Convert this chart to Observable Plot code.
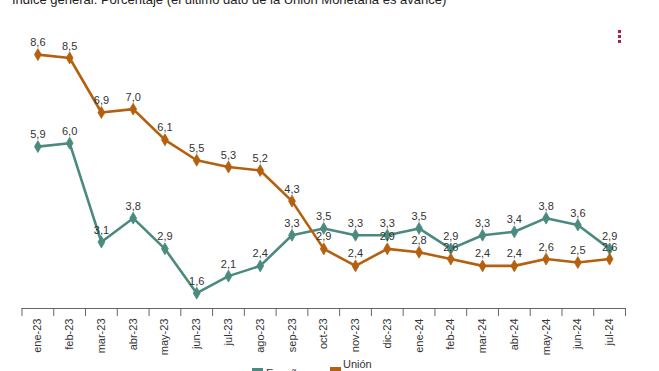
<!DOCTYPE html>
<html>
<head>
<meta charset="utf-8">
<script src="https://cdn.jsdelivr.net/npm/d3@7"></script>
<script src="https://cdn.jsdelivr.net/npm/@observablehq/plot@0.6"></script>
<style>
  html, body { margin: 0; padding: 0; background: #fff; overflow: hidden; }
  #wrap { position: relative; width: 659px; height: 371px; overflow: hidden; font-family: "Liberation Sans", Arial, sans-serif; }
  #title { position: absolute; left: 12px; top: -8px; font-size: 13px; color: #222; white-space: nowrap; }
  #menu { position: absolute; left: 618px; top: 30px; }
  #menu span { display: block; width: 3px; height: 3px; background: #b01c44; margin-bottom: 2px; }
  #chart { position: absolute; left: 0; top: 0; }
  #legend { position: absolute; top: 355px; left: 0; width: 659px; font-size: 11px; color: #333; }
  .item { position: absolute; }
  .sw { position: absolute; width: 11px; height: 10px; }
  .lt { position: absolute; line-height: 12px; }
</style>
</head>
<body>
<div id="wrap">
  <div id="chart"></div>
  <div id="title">Índice general. Porcentaje (el último dato de la Unión Monetaria es avance)</div>
  <div id="menu"><span></span><span></span><span></span></div>
  <div id="legend">
    <div class="item" style="left:252px;top:0">
      <div class="sw" style="left:0;top:13px;background:#4b8a7f"></div>
      <div class="lt" style="left:14px;top:12px">España</div>
    </div>
    <div class="item" style="left:330px;top:0">
      <div class="sw" style="left:0;top:12px;background:#b5600e"></div>
      <div class="lt" style="left:13px;top:0;line-height:18px">Unión<br>Monetaria</div>
    </div>
  </div>
</div>
<script>
const months = ["ene-23","feb-23","mar-23","abr-23","may-23","jun-23","jul-23","ago-23","sep-23","oct-23","nov-23","dic-23","ene-24","feb-24","mar-24","abr-24","may-24","jun-24","jul-24"];
const spain = [5.9, 6.0, 3.1, 3.8, 2.9, 1.6, 2.1, 2.4, 3.3, 3.5, 3.3, 3.3, 3.5, 2.9, 3.3, 3.4, 3.8, 3.6, 2.9];
const union = [8.6, 8.5, 6.9, 7.0, 6.1, 5.5, 5.3, 5.2, 4.3, 2.9, 2.4, 2.9, 2.8, 2.6, 2.4, 2.4, 2.6, 2.5, 2.6];

const teal = "#4b8a7f";
const orange = "#b5600e";
const fmt = v => v.toFixed(1).replace(".", ",");

const rowsES = spain.map((v, i) => ({i, v}));
const rowsUM = union.map((v, i) => ({i, v}));
const yMin = 1.15;

const seriesMarks = (rows, color) => [
  Plot.line(rows, {x: "i", y: "v", stroke: color, strokeWidth: 2.6}),
  Plot.dot(rows, {x: "i", y: "v", fill: color, symbol: "diamond", r: 3.6, stroke: color, strokeWidth: 0.8}),
  Plot.text(rows, {x: "i", y: "v", text: d => fmt(d.v), dy: -12, fill: "#333", fontSize: 11})
];

const chart = Plot.plot({
  width: 659,
  height: 360,
  marginLeft: 21.5,
  marginRight: 34,
  marginTop: 20,
  marginBottom: 52,
  style: {fontFamily: "'Liberation Sans', Arial, sans-serif", background: "transparent"},
  x: {type: "linear", domain: [-0.5, 18.5], axis: null, label: null},
  y: {domain: [yMin, 9.6], axis: null, label: null},
  marks: [
    Plot.ruleY([yMin], {stroke: "#666", strokeWidth: 1}),
    Plot.axisX({ticks: d3.range(-0.5, 19, 1), tickFormat: () => "", tickSize: 8, stroke: "#666", label: null}),
    Plot.axisX({ticks: d3.range(0, 19), tickFormat: i => months[i], tickSize: 0, tickPadding: 10, tickRotate: -90, fontSize: 11, fill: "#333", label: null}),
    ...seriesMarks(rowsES, teal),
    ...seriesMarks(rowsUM, orange)
  ]
});
document.getElementById("chart").appendChild(chart);
</script>
</body>
</html>
